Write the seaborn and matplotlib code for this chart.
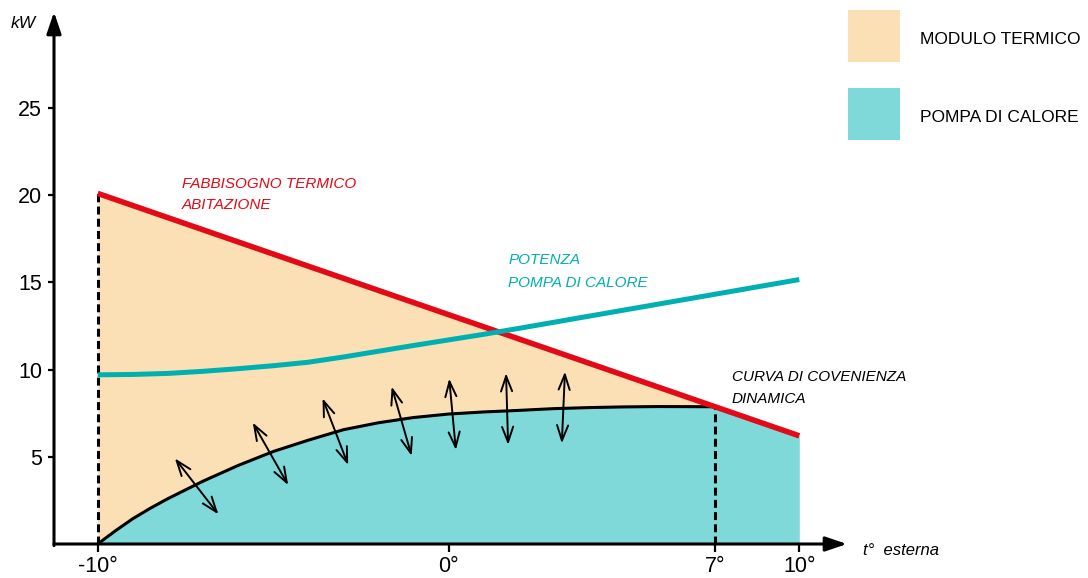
import numpy as np
import matplotlib
matplotlib.use("Agg")
import matplotlib.pyplot as plt
import seaborn as sns
from matplotlib.patches import Rectangle

sns.set_style("white")
plt.rcParams['font.family'] = ['Liberation Sans', 'DejaVu Sans']
plt.rcParams.update({"text.color": "black", "xtick.color": "black",
                     "ytick.color": "black", "axes.labelcolor": "black"})

# ---------------- data ----------------
# heat demand of the house (straight line)
red_x = [-10, 10]
red_y = [20.1, 6.2]

# heat pump power
teal_x = [-10, -9, -8, -7, -6, -5, -4, -3, -2, -1, 0, 1, 2, 4, 6, 8, 10]
teal_y = [9.7, 9.72, 9.78, 9.9, 10.05, 10.22, 10.42, 10.72, 11.05, 11.38, 11.7,
          12.02, 12.36, 13.06, 13.76, 14.46, 15.16]

# dynamic convenience curve
black_x = [-10, -9.5, -9, -8.5, -8, -7, -6, -5, -4, -3, -2, -1, 0, 1, 2, 3, 4, 5, 6, 7.6]
black_y = [0, 0.75, 1.45, 2.05, 2.6, 3.6, 4.5, 5.3, 5.95, 6.55, 6.95, 7.25, 7.45,
           7.57, 7.66, 7.76, 7.82, 7.86, 7.88, 7.87]

# double arrows across the curve: (x start, y start, x end, y end)
arrow_x0 = [-7.80, -5.58, -3.59, -1.62, 0.02, 1.64, 3.32]
arrow_y0 = [4.91, 6.96, 8.35, 9.02, 9.48, 9.79, 9.88]
arrow_x1 = [-6.56, -4.57, -2.86, -1.05, 0.21, 1.70, 3.23]
arrow_y1 = [1.70, 3.38, 4.53, 5.05, 5.39, 5.68, 5.77]

x_ticks = [-10, 0, 7.6, 10]
x_tick_labels = ["-10°", "0°", "7°", "10°"]
y_ticks = [5, 10, 15, 20, 25]
y_tick_labels = ["5", "10", "15", "20", "25"]

legend_labels = ["MODULO TERMICO", "POMPA DI CALORE"]

# ---------------- style ----------------
ORANGE = "#FBE0B6"
TEAL_FILL = "#80D9D9"
RED = "#E30A17"
TEAL = "#00B0B0"
W, H = 1088, 578

fig = plt.figure(figsize=(W / 100, H / 100), dpi=100)
ax = fig.add_axes([54 / W, 1 - 544 / H, (847 - 54) / W, (544 - 12) / H])
ax.set_xlim(-11.246, 11.36)
ax.set_ylim(0, 30.5)

bx = np.array(black_x)
by = np.array(black_y)
red_on_black = np.interp(bx, red_x, red_y)

# fills
ax.fill_between(bx, by, red_on_black, color=ORANGE, lw=0, zorder=1)
ax.fill_between(np.r_[bx, red_x[-1]], np.r_[by, red_y[-1]], 0, color=TEAL_FILL, lw=0, zorder=1)

# dashed verticals
ax.plot([black_x[0], black_x[0]], [0, red_y[0]], color="k", lw=2.2,
        ls=(0, (2.6, 1.4)), zorder=2)
ax.plot([black_x[-1], black_x[-1]], [0, black_y[-1]], color="k", lw=2.2,
        ls=(0, (2.6, 1.4)), zorder=2)

# curves
sns.lineplot(x=black_x, y=black_y, color="k", lw=2.2, ax=ax, zorder=3)
sns.lineplot(x=red_x, y=red_y, color=RED, lw=4.0, ax=ax, zorder=4,
             solid_capstyle="butt")
sns.lineplot(x=teal_x, y=teal_y, color=TEAL, lw=3.6, ax=ax, zorder=5,
             solid_capstyle="butt")

# double arrows
for x0, y0, x1, y1 in zip(arrow_x0, arrow_y0, arrow_x1, arrow_y1):
    ax.annotate("", xy=(x1, y1), xytext=(x0, y0),
                arrowprops=dict(arrowstyle="<->,head_length=0.55,head_width=0.2",
                                lw=1.4, color="k", shrinkA=0, shrinkB=0,
                                mutation_scale=20), zorder=6)

# axes (drawn as arrows)
for s in ["top", "right", "left", "bottom"]:
    ax.spines[s].set_visible(False)
ax.set_xticks(x_ticks, labels=x_tick_labels)
ax.set_yticks(y_ticks, labels=y_tick_labels)
ax.tick_params(axis="y", direction="out", length=4.5, width=1.6, labelsize=15.5,
               pad=4, left=True, colors="black")
ax.tick_params(axis="x", direction="out", length=6, width=1.6, labelsize=15.5,
               pad=3, bottom=True, colors="black")

ax.annotate("", xy=(0, 1), xytext=(0, -0.003), xycoords="axes fraction",
            arrowprops=dict(arrowstyle="-|>,head_length=0.65,head_width=0.22",
                            lw=2.2, color="k", shrinkA=0, shrinkB=0, mutation_scale=20),
            zorder=7)
ax.annotate("", xy=(1, 0), xytext=(0, 0), xycoords="axes fraction",
            arrowprops=dict(arrowstyle="-|>,head_length=0.65,head_width=0.22",
                            lw=2.2, color="k", shrinkA=0, shrinkB=0, mutation_scale=20),
            zorder=7)

# texts
ax.text(-12.47, 29.59, "kW", fontsize=12.5, style="italic", clip_on=False, color="black")
ax.text(11.82, -0.63, "t°  esterna", fontsize=12, style="italic", clip_on=False,
        color="black")

ann = dict(fontsize=11, style="italic", va="baseline")
ax.text(-7.6, 20.43, "FABBISOGNO TERMICO", color=RED, **ann)
ax.text(-7.6, 19.21, "ABITAZIONE", color=RED, **ann)
ax.text(1.7, 16.06, "POTENZA", color=TEAL, **ann)
ax.text(1.7, 14.75, "POMPA DI CALORE", color=TEAL, **ann)
ax.text(8.07, 9.36, "CURVA DI COVENIENZA", color="black", **ann)
ax.text(8.07, 8.10, "DINAMICA", color="black", **ann)

# legend (colour boxes + labels)
for (top, base), col, lab in zip([(10, 44.3), (88, 121.7)], [ORANGE, TEAL_FILL], legend_labels):
    fig.add_artist(Rectangle((848 / W, 1 - (top + 52) / H), 52 / W, 52 / H,
                             transform=fig.transFigure, facecolor=col, edgecolor="none"))
    fig.text(920 / W, 1 - base / H, lab, fontsize=12.5, va="baseline", ha="left",
             color="black")

fig.savefig("out.png", dpi=100)
